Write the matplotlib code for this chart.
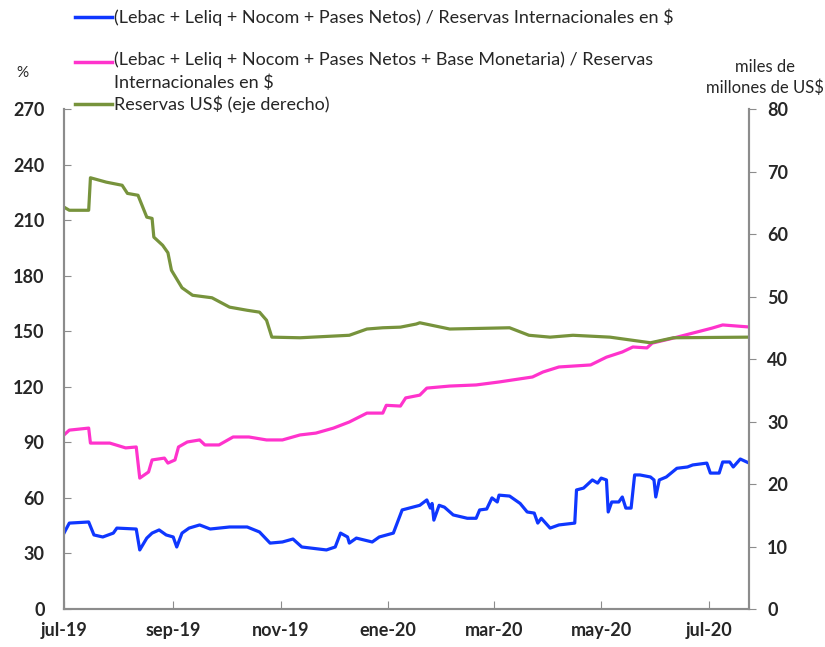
import pandas as pd
import matplotlib.pyplot as plt
from matplotlib.lines import Line2D

plt.rcParams['font.family'] = ['Lato', 'DejaVu Sans']

# Reservas US$ (eje derecho), miles de millones de US$
green_dates = ["2019-07-01", "2019-07-04", "2019-07-15", "2019-07-16", "2019-07-25", "2019-08-03",
               "2019-08-06", "2019-08-12", "2019-08-17", "2019-08-20", "2019-08-21", "2019-08-26",
               "2019-08-29", "2019-08-31", "2019-09-06", "2019-09-12", "2019-09-23", "2019-10-03",
               "2019-10-13", "2019-10-20", "2019-10-24", "2019-10-27", "2019-11-12", "2019-12-10",
               "2019-12-20", "2019-12-29", "2020-01-08", "2020-01-17", "2020-01-19", "2020-02-05",
               "2020-03-10", "2020-03-21", "2020-04-02", "2020-04-15", "2020-05-06", "2020-05-29",
               "2020-06-11", "2020-07-24"]
green_vals = [64.3, 63.8, 63.8, 69.0, 68.3, 67.8, 66.5, 66.2, 62.7, 62.5, 59.5, 58.2,
              57.0, 54.2, 51.4, 50.2, 49.8, 48.3, 47.8, 47.5, 46.2, 43.5, 43.4, 43.8,
              44.8, 45.0, 45.1, 45.6, 45.8, 44.8, 45.0, 43.8, 43.5, 43.8, 43.5, 42.6,
              43.4, 43.5]

# (Lebac + Leliq + Nocom + Pases Netos + Base Monetaria) / Reservas, %
pink_dates = ["2019-07-01", "2019-07-04", "2019-07-15", "2019-07-16", "2019-07-27", "2019-08-05",
              "2019-08-11", "2019-08-13", "2019-08-18", "2019-08-20", "2019-08-27", "2019-08-29",
              "2019-09-02", "2019-09-04", "2019-09-09", "2019-09-16", "2019-09-19", "2019-09-27",
              "2019-10-05", "2019-10-14", "2019-10-24", "2019-11-02", "2019-11-12", "2019-11-21",
              "2019-12-01", "2019-12-10", "2019-12-20", "2019-12-29", "2019-12-31", "2020-01-08",
              "2020-01-11", "2020-01-19", "2020-01-23", "2020-02-05", "2020-02-20", "2020-03-04",
              "2020-03-23", "2020-03-29", "2020-04-07", "2020-04-25", "2020-05-04", "2020-05-13",
              "2020-05-19", "2020-05-27", "2020-05-30", "2020-06-11", "2020-06-22", "2020-07-03",
              "2020-07-09", "2020-07-24"]
pink_vals = [94, 96.6, 97.7, 89.6, 89.6, 87, 87.5, 70.7, 74, 80.5, 81.5, 78.8,
             80.5, 87.5, 90.2, 91.3, 88.6, 88.6, 92.9, 92.9, 91.3, 91.3, 94, 95,
             97.7, 101, 105.8, 105.8, 110, 109.6, 114, 115.5, 119.3, 120.4, 121, 122.6,
             125.3, 128, 130.7, 131.8, 136, 138.8, 141.5, 141, 143.6, 146.3, 149, 151.7,
             153.4, 152.3]

# (Lebac + Leliq + Nocom + Pases Netos) / Reservas, %
blue_dates = ["2019-07-01", "2019-07-04", "2019-07-15", "2019-07-18", "2019-07-23", "2019-07-29",
              "2019-07-31", "2019-08-11", "2019-08-13", "2019-08-17", "2019-08-20", "2019-08-24",
              "2019-08-28", "2019-09-01", "2019-09-03", "2019-09-06", "2019-09-10", "2019-09-16",
              "2019-09-22", "2019-10-03", "2019-10-13", "2019-10-20", "2019-10-26", "2019-11-02",
              "2019-11-08", "2019-11-13", "2019-11-27", "2019-12-02", "2019-12-05", "2019-12-09",
              "2019-12-10", "2019-12-14", "2019-12-23", "2019-12-27", "2020-01-04", "2020-01-09",
              "2020-01-19", "2020-01-23", "2020-01-25", "2020-01-26", "2020-01-27", "2020-01-30",
              "2020-02-02", "2020-02-07", "2020-02-15", "2020-02-20", "2020-02-22", "2020-02-26",
              "2020-02-29", "2020-03-03", "2020-03-04", "2020-03-10", "2020-03-16", "2020-03-20",
              "2020-03-24", "2020-03-26", "2020-03-28", "2020-04-02", "2020-04-07", "2020-04-16",
              "2020-04-17", "2020-04-21", "2020-04-26", "2020-04-29", "2020-05-01", "2020-05-04",
              "2020-05-05", "2020-05-07", "2020-05-11", "2020-05-13", "2020-05-15", "2020-05-18",
              "2020-05-20", "2020-05-23", "2020-05-29", "2020-05-31", "2020-06-01", "2020-06-03",
              "2020-06-07", "2020-06-13", "2020-06-19", "2020-06-22", "2020-06-30", "2020-07-02",
              "2020-07-07", "2020-07-09", "2020-07-13", "2020-07-15", "2020-07-19", "2020-07-24"]
blue_vals = [41, 46.4, 47, 40, 38.9, 41, 43.7, 43.2, 31.9, 38.3, 41, 42.7,
             40, 38.9, 33.5, 41, 43.7, 45.4, 43.2, 44.3, 44.3, 41.6, 35.6, 36.2,
             37.8, 33.5, 31.9, 33.5, 41, 38.9, 35.6, 38.3, 36.2, 38.9, 41, 53.5,
             56, 58.9, 54.5, 57, 48, 56, 55, 50.8, 49, 49, 53.5, 54,
             60, 57.8, 61.5, 61, 57, 52.4, 51.8, 46.4, 49, 43.7, 45.4, 46.4,
             64.3, 65.3, 69.7, 68, 70.7, 69.7, 52.4, 57.8, 57.8, 60.5, 54.5, 54.5,
             72.4, 72.4, 71.3, 69.7, 60.5, 69.7, 71.3, 76, 76.7, 77.8, 78.8, 73.4,
             73.4, 79.4, 79.4, 76.7, 81, 78.8]

labels = ["(Lebac + Leliq + Nocom + Pases Netos) / Reservas Internacionales en $",
          "(Lebac + Leliq + Nocom + Pases Netos + Base Monetaria) / Reservas\nInternacionales en $",
          "Reservas US$ (eje derecho)"]
x_ticks = ["2019-07-01", "2019-09-01", "2019-11-01", "2020-01-01", "2020-03-01", "2020-05-01", "2020-07-01"]
x_ticklabels = ["jul-19", "sep-19", "nov-19", "ene-20", "mar-20", "may-20", "jul-20"]

c_blue, c_pink, c_green = '#0f37ff', '#ff33cc', '#77933c'
spine_c = '#8c8c8c'

fig = plt.figure(figsize=(8.25, 6.47), dpi=100)
ax = fig.add_axes([0.0776, 0.0587, 0.8304, 0.7728])
ax2 = ax.twinx()

ax.plot(pd.to_datetime(blue_dates), blue_vals, color=c_blue, lw=2.3)
ax.plot(pd.to_datetime(pink_dates), pink_vals, color=c_pink, lw=2.3)
ax2.plot(pd.to_datetime(green_dates), green_vals, color=c_green, lw=2.3)

ax.set_xlim(pd.Timestamp("2019-07-01"), pd.Timestamp("2020-07-24"))
ax.set_ylim(0, 270)
ax2.set_ylim(0, 80)
ax.set_yticks(range(0, 271, 30))
ax2.set_yticks(range(0, 81, 10))
ax.set_xticks(pd.to_datetime(x_ticks))
ax.set_xticklabels(x_ticklabels)

for a in (ax, ax2):
    a.spines['top'].set_visible(False)
    for s in ('left', 'right', 'bottom'):
        a.spines[s].set_color(spine_c)
        a.spines[s].set_linewidth(1.5)

ax.tick_params(axis='y', direction='in', length=5, color=spine_c, labelsize=13, pad=14)
ax.tick_params(axis='x', direction='in', length=6, color=spine_c, labelsize=13, pad=9)
ax2.tick_params(axis='y', direction='out', length=5, color=spine_c, labelsize=13, pad=8)
for lab in ax.get_xticklabels() + ax.get_yticklabels() + ax2.get_yticklabels():
    lab.set_fontweight('bold')
    lab.set_color('#262626')

# manual legend at the top
leg_y = [0.973, 0.904, 0.839]
for y, c, t in zip(leg_y, [c_blue, c_pink, c_green], labels):
    fig.add_artist(Line2D([0.091, 0.136], [y, y], color=c, lw=2.5, transform=fig.transFigure))
    fig.text(0.138, y + (0.016 if '\n' in t else 0), t, fontsize=13, color='#262626',
             va='top' if '\n' in t else 'center', linespacing=1.45, transform=fig.transFigure)

fig.text(0.027, 0.887, "%", fontsize=11, color='#262626', ha='center', va='center')
fig.text(0.927, 0.88, "miles de\nmillones de US$", fontsize=12, color='#262626',
         ha='center', va='center', linespacing=1.3)

fig.savefig("out.png", dpi=100)
